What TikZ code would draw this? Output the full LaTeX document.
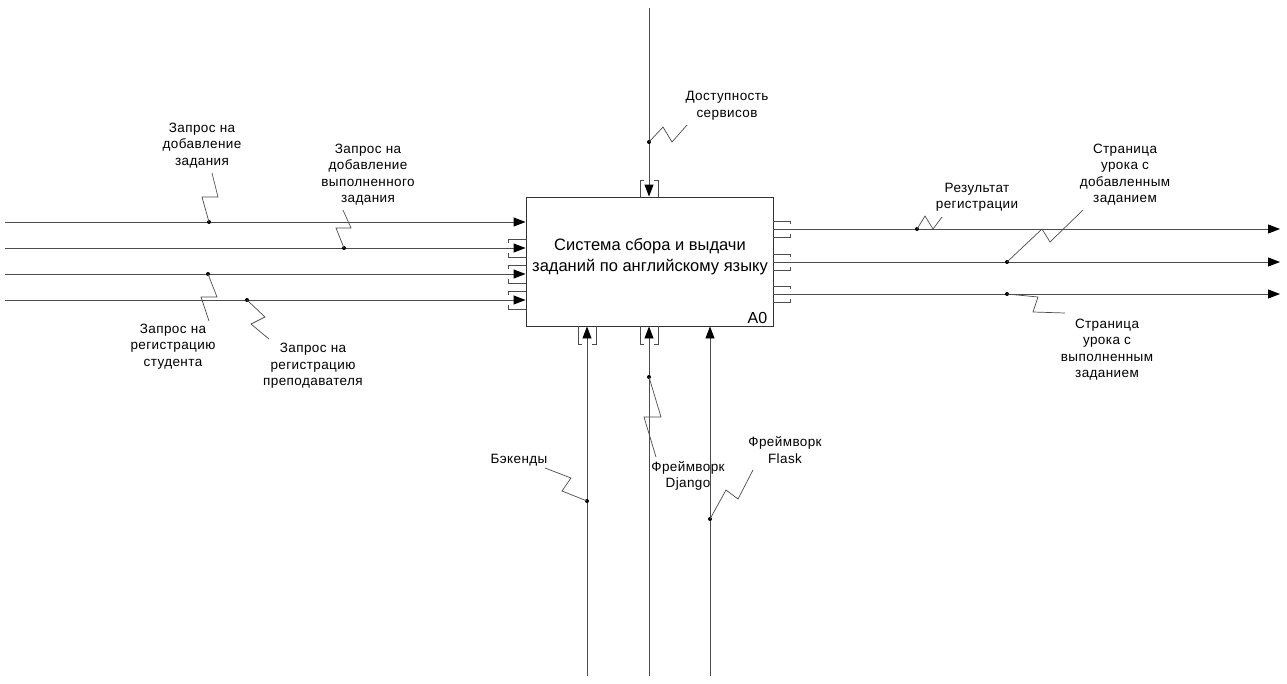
\documentclass[tikz,border=0pt]{standalone}
\usepackage{fontspec}
\setmainfont{Liberation Sans}
\newfontfamily\labelfont[LetterSpace=3]{Liberation Sans}
\usetikzlibrary{arrows.meta,calc}
\begin{document}
\begin{tikzpicture}[x=1pt,y=-1pt,
  flow/.style={draw=black!70,line width=0.9pt,-{Triangle[length=12pt,width=9pt,color=black,fill=black]}},
  tick/.style={draw=black!70,line width=0.7pt},
  leader/.style={draw=black!70,line width=0.7pt},
  dotmark/.style={circle,fill=black,inner sep=0pt,minimum size=4pt},
  lbl/.style={align=center,font=\labelfont\fontsize{13.5}{16.5}\selectfont,inner sep=0pt},
  box/.style={draw=black!80,line width=0.9pt,fill=white,minimum width=247pt,minimum height=129pt,inner sep=0pt}]
\useasboundingbox (0,0) rectangle (1287,683);
\fill[white] (0,0) rectangle (1287,683);

% activity box
\node[box] (box) at (649.5,261.5) {};
\node[font=\fontsize{16.5}{21}\selectfont,align=center,inner sep=0pt] (title) at (650,257)
  {Система сбора и выдачи\\заданий по английскому языку};
\node[font=\fontsize{16}{18}\selectfont,inner sep=0pt,anchor=south east] (num) at ($(box.south east)+(-6,-3)$) {A0};

% inputs
\foreach \n/\y in {1/222,2/248,3/274,4/300}{
  \coordinate (in\n) at (5,\y);
  \draw[flow] (in\n) -- (in\n -| box.west);
}
% tunnel brackets on inputs 2-4
\foreach \y in {248,274,300}{
  \draw[tick] (526,\y-9) -- (508,\y-9) -- (508,\y-5);
  \draw[tick] (526,\y+9) -- (508,\y+9) -- (508,\y+5);
}

% outputs
\foreach \n/\y in {1/229,2/262,3/294}{
  \coordinate (out\n) at (1280,\y);
  \draw[flow] (out\n -| box.east) -- (out\n);
  \draw[tick] (773,\y-8) -- (790,\y-8) -- (790,\y-5);
  \draw[tick] (773,\y+8) -- (790,\y+8) -- (790,\y+5);
}

% control
\coordinate (ctl) at (649,8);
\draw[flow] (ctl) -- (ctl |- box.north);
\draw[tick] (644,180) -- (640,180) -- (640,197);
\draw[tick] (654,180) -- (658,180) -- (658,197);

% mechanisms
\foreach \n/\x in {1/587,2/649,3/710}{
  \coordinate (mech\n) at (\x,676);
  \draw[flow] (mech\n) -- (mech\n |- box.south);
}
\foreach \x in {587,649}{
  \draw[tick] (\x-5,344) -- (\x-9,344) -- (\x-9,326);
  \draw[tick] (\x+5,344) -- (\x+9,344) -- (\x+9,326);
}

% labels
\node[lbl] (l1) at (202,145.5) {Запрос на\\добавление\\задания};
\node[lbl] (l2) at (368,174.5) {Запрос на\\добавление\\выполненного\\задания};
\node[lbl] (l3) at (173,346.5) {Запрос на\\регистрацию\\студента};
\node[lbl] (l4) at (313,366) {Запрос на\\регистрацию\\преподавателя};
\node[lbl] (lc) at (727,106) {Доступность\\сервисов};
\node[lbl] (o1) at (977,197.5) {Результат\\регистрации};
\node[lbl] (o2) at (1125,174.5) {Страница\\урока с\\добавленным\\заданием};
\node[lbl] (o3) at (1107,349.5) {Страница\\урока с\\выполненным\\заданием};
\node[lbl] (m1) at (519,460) {Бэкенды};
\node[lbl] (m2) at (688,476) {Фреймворк\\Django};
\node[lbl] (m3) at (785,450) {Фреймворк\\Flask};

% label leaders (squiggles) ending in dots on the arrows
\node[dotmark] (d1) at (209,222) {};
\draw[leader] (212,173) -- (218,197) -- (202,197) -- (d1.center);
\node[dotmark] (d2) at (344,248) {};
\draw[leader] (343,210) -- (351,228) -- (336,228) -- (d2.center);
\node[dotmark] (d3) at (208,274) {};
\draw[leader] (d3.center) -- (217,297) -- (201,297) -- (209,321);
\node[dotmark] (d4) at (247,300) {};
\draw[leader] (d4.center) -- (265,317) -- (251,324) -- (269,339);
\node[dotmark] (dc) at (649,142) {};
\draw[leader] (dc.center) -- (663,127) -- (672,142) -- (687,125);
\node[dotmark] (e1) at (917,229) {};
\draw[leader] (e1.center) -- (925,216) -- (933,229) -- (942,217);
\node[dotmark] (e2) at (1007,262) {};
\draw[leader] (e2.center) -- (1042,229) -- (1050,242) -- (1083,210);
\node[dotmark] (e3) at (1007,294) {};
\draw[leader] (e3.center) -- (1038,297) -- (1033,312) -- (1065,313);
\node[dotmark] (f1) at (587,501) {};
\draw[leader] (545,468) -- (571,478) -- (562,491) -- (f1.center);
\node[dotmark] (f2) at (649,377) {};
\draw[leader] (f2.center) -- (661,417) -- (644,417) -- (656,457);
\node[dotmark] (f3) at (710,519) {};
\draw[leader] (753,470) -- (738,499) -- (726,490) -- (f3.center);
\end{tikzpicture}
\end{document}
